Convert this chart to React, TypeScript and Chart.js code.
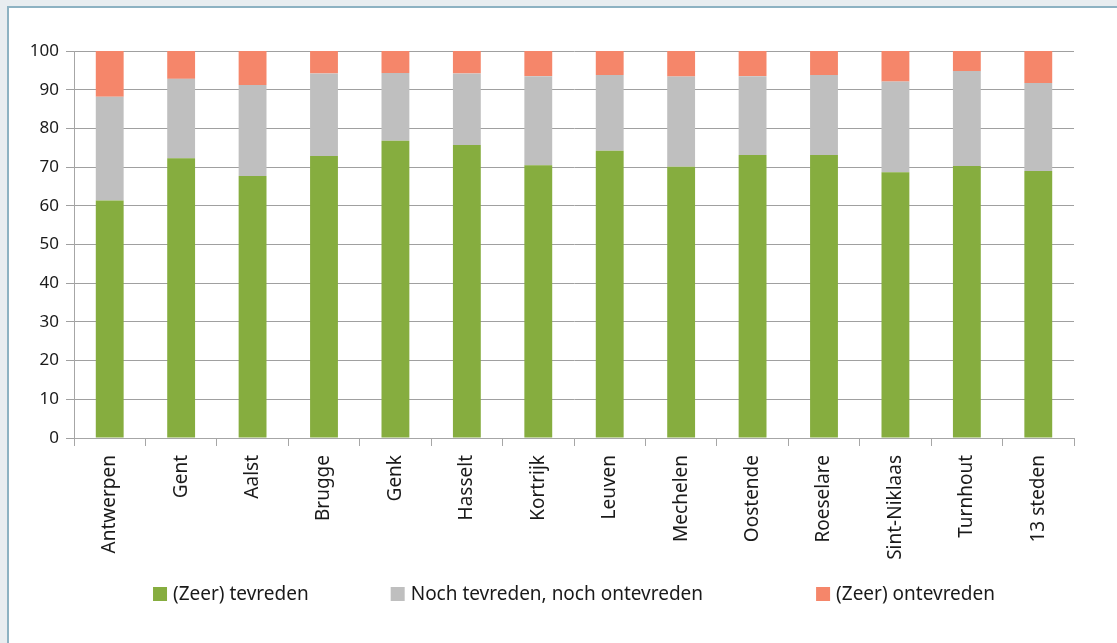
import React, { useEffect, useRef } from "react";
import { Chart, registerables } from "chart.js";

Chart.register(...registerables);

const categories = [
  "Antwerpen", "Gent", "Aalst", "Brugge", "Genk", "Hasselt", "Kortrijk",
  "Leuven", "Mechelen", "Oostende", "Roeselare", "Sint-Niklaas", "Turnhout", "13 steden",
];
const tevreden = [61.4, 72.3, 67.7, 72.9, 76.8, 75.7, 70.5, 74.2, 70.1, 73.1, 73.1, 68.7, 70.3, 69.0];
const neutraal = [26.8, 20.5, 23.5, 21.3, 17.5, 18.5, 23.0, 19.6, 23.3, 20.4, 20.7, 23.4, 24.5, 22.7];
const ontevreden = [11.8, 7.2, 8.8, 5.8, 5.7, 5.8, 6.5, 6.2, 6.6, 6.5, 6.2, 7.9, 5.2, 8.3];
const seriesNames = ["(Zeer) tevreden", "Noch tevreden, noch ontevreden", "(Zeer) ontevreden"];
const yTicks = [0, 10, 20, 30, 40, 50, 60, 70, 80, 90, 100];

const FONT = "'Noto Sans', 'Open Sans', sans-serif";

const legendPlugin = {
  id: "customLegend",
  afterDraw(chart: any) {
    const ctx = chart.ctx;
    const ds = chart.data.datasets;
    const box = 14;
    const boxGap = 6;
    const gaps = [82, 113];
    ctx.save();
    ctx.font = `19px ${FONT}`;
    const widths = ds.map((d: any) => box + boxGap + ctx.measureText(d.label).width);
    const total = widths.reduce((a: number, b: number) => a + b, 0) + gaps.reduce((a, b) => a + b, 0);
    const area = chart.chartArea;
    let x = (area.left + area.right) / 2 - total / 2;
    const y = 594;
    ctx.textBaseline = "middle";
    ctx.textAlign = "left";
    ds.forEach((d: any, i: number) => {
      ctx.fillStyle = d.backgroundColor;
      ctx.fillRect(x, y - box / 2, box, box);
      ctx.fillStyle = "#1a1a1a";
      ctx.fillText(d.label, x + box + boxGap, y + 1);
      x += widths[i] + (gaps[i] || 0);
    });
    ctx.restore();
  },
};

export default function App() {
  const ref = useRef<HTMLCanvasElement | null>(null);

  useEffect(() => {
    if (!ref.current) return;
    const chart = new Chart(ref.current, {
      type: "bar",
      data: {
        labels: categories,
        datasets: [
          { label: seriesNames[0], data: tevreden, backgroundColor: "#86ad3f" },
          { label: seriesNames[1], data: neutraal, backgroundColor: "#bfbfbf" },
          { label: seriesNames[2], data: ontevreden, backgroundColor: "#f5866a" },
        ],
      },
      plugins: [legendPlugin],
      options: {
        responsive: false,
        animation: false,
        layout: { padding: { left: 0, top: 51, right: 43, bottom: 77 } },
        datasets: { bar: { barPercentage: 0.39, categoryPercentage: 1, borderWidth: 0 } },
        plugins: {
          tooltip: { enabled: false },
          legend: { display: false },
        },
        scales: {
          x: {
            stacked: true,
            afterFit: (s: any) => { s.height = 128; },
            grid: { drawOnChartArea: false, drawTicks: true, tickLength: 8, color: "#a6a6a6", offset: true },
            border: { color: "#a6a6a6" },
            ticks: {
              minRotation: 90, maxRotation: 90, autoSkip: false, padding: 9,
              color: "#1a1a1a", font: { family: FONT, size: 19 },
            },
          },
          y: {
            stacked: true,
            min: 0, max: 100,
            afterFit: (s: any) => { s.width = 74; },
            afterBuildTicks: (s: any) => { s.ticks = yTicks.map((v) => ({ value: v })); },
            grid: { color: "#a0a0a0", tickLength: 8 },
            border: { color: "#a6a6a6" },
            ticks: { padding: 7, color: "#1a1a1a", font: { family: FONT, size: 17 } },
          },
        },
      },
    });
    return () => chart.destroy();
  }, []);

  return (
    <div style={{ position: "fixed", left: 0, top: 0, width: 1117, height: 643, background: "#e8edf0", overflow: "hidden" }}>
      <div style={{ position: "absolute", left: 7, top: 6, width: 1200, height: 700, background: "#fff", borderLeft: "2px solid #8db2c2", borderTop: "2px solid #8db2c2" }} />
      <canvas ref={ref} width={1117} height={643} style={{ position: "absolute", left: 0, top: 0 }} />
    </div>
  );
}
